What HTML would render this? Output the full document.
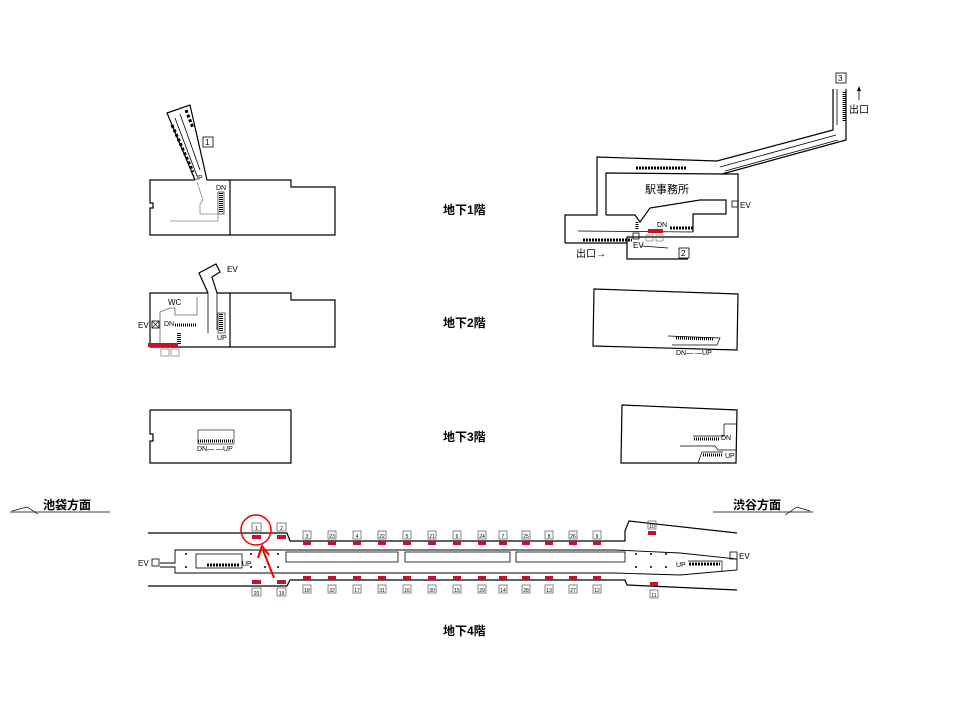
<!DOCTYPE html>
<html><head><meta charset="utf-8"><style>
html,body{margin:0;padding:0;background:#fff;}
svg{display:block}
text{font-family:"Liberation Sans","Noto Sans CJK JP",sans-serif;fill:#000}
.j{font-size:12px;font-weight:bold}
.s{font-size:7px}
.b{font-size:8px}
</style></head><body>
<svg width="960" height="720" viewBox="0 0 960 720" xmlns="http://www.w3.org/2000/svg">
<g fill="none" stroke="#000" stroke-width="1.2">
<!-- B1 left -->
<polyline points="195,180 150,180 150,203 153,203 153,208 150,208 150,235 335,235 335,187 291,187 291,180 207,180"/>
<line x1="230" y1="180" x2="230" y2="235"/>
<polyline points="195,180 167,113 190,105 207,180"/>
<line x1="175" y1="118" x2="197" y2="176" stroke-width="0.8"/>
<line x1="180" y1="114" x2="200" y2="170" stroke-width="0.8"/>
<line x1="172" y1="125" x2="193" y2="172" stroke-width="3" stroke-dasharray="3 2"/>
<line x1="186" y1="110" x2="193" y2="128" stroke-width="3" stroke-dasharray="3 2"/>
<rect x="203" y="137" width="10" height="10" stroke-width="0.8"/>
<rect x="218" y="192" width="6" height="22" stroke-width="0.6"/>
<line x1="221" y1="193" x2="221" y2="213" stroke-width="4" stroke-dasharray="1 1"/>
<polyline points="170,221 218,221 218,214 200,214 200,204 203,200 197,182" stroke="#888" stroke-width="0.8"/>
<!-- B2 left -->
<polyline points="208,293 150,293 150,347 335,347 335,300 291,300 291,293 217,293"/>
<line x1="230" y1="293" x2="230" y2="347"/>
<polyline points="208,293 199,273 216,264 220,272 212,277 217,293" />
<line x1="208" y1="293" x2="208" y2="333" stroke-width="0.8"/>
<line x1="217" y1="293" x2="217" y2="330" stroke-width="0.8"/>
<rect x="218" y="313" width="7" height="20" stroke-width="0.6"/>
<line x1="221" y1="314" x2="221" y2="332" stroke-width="4" stroke-dasharray="1 1"/>
<polyline points="160,345 160,312 170,308 175,308 175,315 197,315 197,297" stroke="#666" stroke-width="0.8"/>
<line x1="175" y1="325" x2="197" y2="325" stroke-width="3" stroke-dasharray="1 1"/>
<line x1="179" y1="333" x2="179" y2="345" stroke-width="4" stroke-dasharray="1 1"/>
<rect x="152" y="321" width="7" height="7" stroke-width="0.8"/>
<line x1="152" y1="321" x2="159" y2="328" stroke-width="0.6"/><line x1="159" y1="321" x2="152" y2="328" stroke-width="0.6"/>
<rect x="161" y="349" width="8" height="7" stroke-width="0.6" stroke="#666"/>
<rect x="171" y="349" width="8" height="7" stroke-width="0.6" stroke="#666"/>
<!-- B3 left -->
<polyline points="150,410 291,410 291,463 150,463 150,441 153,441 153,434 150,434 150,410"/>
<rect x="198" y="430" width="36" height="14" stroke-width="0.6"/>
<line x1="198" y1="441" x2="234" y2="441" stroke-width="3" stroke-dasharray="1 1"/>
<!-- B1 right -->
<polyline points="565,243 565,215 597,215 597,157 717,161 833,130 833,89"/>
<polyline points="846,89 846,140 722,174 738,174 738,237 627,237 627,243 565,243"/>
<polyline points="627,243 627,259 688,259"/>
<line x1="642" y1="246" x2="668" y2="248" stroke-width="0.8"/>
<polyline points="606,215 606,173 722,174"/>
<polyline points="606,215 635,215 640,222 650,208 700,200 726,200 726,214 693,214 693,232"/>
<line x1="720" y1="167" x2="836" y2="135" stroke-width="0.8"/>
<line x1="725" y1="171" x2="838" y2="140" stroke-width="0.8"/>
<line x1="837" y1="89" x2="837" y2="125" stroke-width="0.8"/>
<line x1="578" y1="231" x2="693" y2="232" stroke-width="0.8"/>
<line x1="583" y1="240" x2="632" y2="240" stroke-width="3" stroke-dasharray="2 1"/>
<line x1="670" y1="228" x2="693" y2="228" stroke-width="3" stroke-dasharray="2 1"/>
<line x1="637" y1="222" x2="637" y2="230" stroke-width="3" stroke-dasharray="1 1"/>
<line x1="636" y1="168" x2="686" y2="168" stroke-width="3" stroke-dasharray="2 1"/>
<line x1="844" y1="92" x2="844" y2="122" stroke-width="3" stroke-dasharray="1 1"/>
<rect x="633" y="233" width="6" height="6" stroke-width="0.8"/>
<rect x="732" y="201" width="6" height="6" stroke-width="0.8"/>
<rect x="679" y="248" width="10" height="10" stroke-width="0.8"/>
<rect x="836" y="73" width="10" height="10" stroke-width="0.8"/>
<rect x="646" y="235" width="7" height="6" stroke-width="0.6" stroke="#666"/>
<rect x="656" y="235" width="7" height="6" stroke-width="0.6" stroke="#666"/>
<!-- B2 right -->
<polygon points="594,289 738,294 737,350 593,346"/>
<polyline points="668,336 720,338 717,345 672,345" stroke-width="0.7"/>
<line x1="676" y1="338" x2="714" y2="339" stroke-width="3" stroke-dasharray="1 1"/>
<!-- B3 right -->
<polygon points="622,405 737,410 736,463 621,463"/>
<polyline points="693,436 724,436 724,424 737,424" stroke-width="0.7"/>
<polyline points="680,446 715,446 718,450 737,450" stroke-width="0.7"/>
<polyline points="698,463 702,452 723,452" stroke-width="0.7"/>
<line x1="694" y1="439" x2="720" y2="439" stroke-width="3" stroke-dasharray="1 1"/>
<line x1="703" y1="455" x2="722" y2="455" stroke-width="3" stroke-dasharray="1 1"/>
<!-- B4 -->
<polyline points="148,533 287,533 290,541 625,541 625,531 629,521 737,533"/>
<polyline points="148,586 287,586 290,580 625,580 627,585 737,590"/>
<polyline points="160,563 175,563 175,550 615,550 680,553 737,559 737,570 680,575 615,573 175,573 175,567 160,567" stroke-width="0.9"/>
<rect x="196" y="554" width="46" height="14" stroke-width="0.8"/>
<line x1="207" y1="565" x2="240" y2="565" stroke-width="3" stroke-dasharray="2 1"/>
<rect x="286" y="552" width="112" height="10" stroke-width="0.8"/>
<rect x="405" y="552" width="105" height="10" stroke-width="0.8"/>
<rect x="516" y="552" width="109" height="10" stroke-width="0.8"/>
<polyline points="688,561 722,561 722,572" stroke-width="0.7"/>
<line x1="689" y1="564" x2="720" y2="564" stroke-width="3" stroke-dasharray="2 1"/>
<rect x="152" y="559" width="7" height="7" stroke-width="0.8"/>
<rect x="730" y="552" width="7" height="7" stroke-width="0.8"/>
<!-- direction lines -->
<polyline points="10,512 110,512" stroke-width="0.7"/><polyline points="12,511 27,507 38,514" stroke-width="0.7"/>
<polyline points="713,512 813,512" stroke-width="0.7"/><polyline points="785,515 797,507 810,511" stroke-width="0.7"/>
<line x1="859" y1="100" x2="859" y2="89" stroke-width="0.8"/>
</g>
<polygon points="857,91 859,86 861,91" fill="#000"/>
<!-- red doors -->
<g fill="#c8102e">
<rect x="148" y="343" width="30" height="4"/>
<rect x="648" y="229" width="15" height="4"/>
<rect x="252" y="535" width="9" height="4"/><rect x="277" y="535" width="9" height="4"/>
<rect x="303" y="541" width="8" height="4"/><rect x="328" y="541" width="8" height="4"/><rect x="353" y="541" width="8" height="4"/><rect x="378" y="541" width="8" height="4"/><rect x="403" y="541" width="8" height="4"/><rect x="428" y="541" width="8" height="4"/><rect x="453" y="541" width="8" height="4"/><rect x="478" y="541" width="8" height="4"/><rect x="499" y="541" width="8" height="4"/><rect x="522" y="541" width="8" height="4"/><rect x="545" y="541" width="8" height="4"/><rect x="569" y="541" width="8" height="4"/><rect x="593" y="541" width="8" height="4"/><rect x="648" y="531" width="8" height="4"/>
<rect x="252" y="580" width="9" height="4"/><rect x="277" y="580" width="9" height="4"/>
<rect x="303" y="576" width="8" height="4"/><rect x="328" y="576" width="8" height="4"/><rect x="353" y="576" width="8" height="4"/><rect x="378" y="576" width="8" height="4"/><rect x="403" y="576" width="8" height="4"/><rect x="428" y="576" width="8" height="4"/><rect x="453" y="576" width="8" height="4"/><rect x="478" y="576" width="8" height="4"/><rect x="499" y="576" width="8" height="4"/><rect x="522" y="576" width="8" height="4"/><rect x="545" y="576" width="8" height="4"/><rect x="569" y="576" width="8" height="4"/><rect x="593" y="576" width="8" height="4"/><rect x="650" y="582" width="8" height="4"/>
</g>
<!-- number boxes B4 -->
<g fill="none" stroke="#555" stroke-width="0.7">
<rect x="252" y="523" width="9" height="8"/><rect x="277" y="523" width="9" height="8"/>
<rect x="303" y="531" width="8" height="8"/><rect x="328" y="531" width="8" height="8"/><rect x="353" y="531" width="8" height="8"/><rect x="378" y="531" width="8" height="8"/><rect x="403" y="531" width="8" height="8"/><rect x="428" y="531" width="8" height="8"/><rect x="453" y="531" width="8" height="8"/><rect x="478" y="531" width="8" height="8"/><rect x="499" y="531" width="8" height="8"/><rect x="522" y="531" width="8" height="8"/><rect x="545" y="531" width="8" height="8"/><rect x="569" y="531" width="8" height="8"/><rect x="593" y="531" width="8" height="8"/><rect x="648" y="521" width="8" height="8"/>
<rect x="252" y="588" width="9" height="8"/><rect x="277" y="588" width="9" height="8"/>
<rect x="303" y="585" width="8" height="8"/><rect x="328" y="585" width="8" height="8"/><rect x="353" y="585" width="8" height="8"/><rect x="378" y="585" width="8" height="8"/><rect x="403" y="585" width="8" height="8"/><rect x="428" y="585" width="8" height="8"/><rect x="453" y="585" width="8" height="8"/><rect x="478" y="585" width="8" height="8"/><rect x="499" y="585" width="8" height="8"/><rect x="522" y="585" width="8" height="8"/><rect x="545" y="585" width="8" height="8"/><rect x="569" y="585" width="8" height="8"/><rect x="593" y="585" width="8" height="8"/><rect x="650" y="590" width="8" height="8"/>
</g>
<g text-anchor="middle" style="font-size:5px">
<text x="256.5" y="530">1</text><text x="281.5" y="530">2</text><text x="307" y="538">3</text><text x="332" y="538">23</text><text x="357" y="538">4</text><text x="382" y="538">22</text><text x="407" y="538">5</text><text x="432" y="538">21</text><text x="457" y="538">6</text><text x="482" y="538">24</text><text x="503" y="538">7</text><text x="526" y="538">25</text><text x="549" y="538">8</text><text x="573" y="538">26</text><text x="597" y="538">9</text><text x="652" y="528">10</text>
<text x="256.5" y="595">20</text><text x="281.5" y="595">19</text><text x="307" y="592">18</text><text x="332" y="592">32</text><text x="357" y="592">17</text><text x="382" y="592">31</text><text x="407" y="592">16</text><text x="432" y="592">30</text><text x="457" y="592">15</text><text x="482" y="592">29</text><text x="503" y="592">14</text><text x="526" y="592">28</text><text x="549" y="592">13</text><text x="573" y="592">27</text><text x="597" y="592">12</text><text x="654" y="597">11</text>
</g>
<!-- dots -->
<g fill="#000">
<circle cx="186" cy="554" r="1"/><circle cx="186" cy="567" r="1"/><circle cx="251" cy="554" r="1"/><circle cx="251" cy="567" r="1"/><circle cx="265" cy="567" r="1"/><circle cx="278" cy="554" r="1"/><circle cx="278" cy="567" r="1"/>
<circle cx="636" cy="554" r="1"/><circle cx="651" cy="554" r="1"/><circle cx="666" cy="554" r="1"/><circle cx="636" cy="567" r="1"/><circle cx="651" cy="567" r="1"/><circle cx="666" cy="567" r="1"/>
</g>
<!-- red marker -->
<circle cx="256" cy="530" r="15" fill="none" stroke="#e00" stroke-width="1.5"/>
<line x1="274" y1="578" x2="263" y2="550" stroke="#e00" stroke-width="2"/>
<polyline points="258,558 262,546 269,555" fill="none" stroke="#e00" stroke-width="2"/>
<!-- labels -->
<text class="j" x="443" y="214">地下1階</text>
<text class="j" x="443" y="327">地下2階</text>
<text class="j" x="443" y="441">地下3階</text>
<text class="j" x="443" y="635">地下4階</text>
<text class="j" x="43" y="509">池袋方面</text>
<text class="j" x="733" y="509">渋谷方面</text>
<text style="font-size:11px" x="645" y="193">駅事務所</text>
<text style="font-size:10px" x="576" y="257">出口→</text>
<text style="font-size:10px" x="849" y="113">出口</text>
<text class="b" x="205" y="145">1</text>
<text class="b" x="681" y="256">2</text>
<text class="b" x="838" y="81">3</text>
<text class="s" x="193" y="180">UP</text>
<text class="s" x="216" y="190">DN</text>
<text class="b" x="168" y="305">WC</text>
<text class="b" x="227" y="272">EV</text>
<text class="b" x="138" y="328">EV</text>
<text class="s" x="164" y="326">DN</text>
<text class="s" x="217" y="340">UP</text>
<text class="s" x="197" y="451">DN— —UP</text>
<text class="b" x="740" y="208">EV</text>
<text class="b" x="633" y="248">EV</text>
<text class="s" x="657" y="227">DN</text>
<text class="s" x="676" y="355">DN— —UP</text>
<text class="s" x="721" y="440">DN</text>
<text class="s" x="725" y="458">UP</text>
<text class="b" x="138" y="566">EV</text>
<text class="s" x="242" y="566">UP</text>
<text class="s" x="676" y="567">UP</text>
<text class="b" x="739" y="559">EV</text>
</svg>
</body></html>
